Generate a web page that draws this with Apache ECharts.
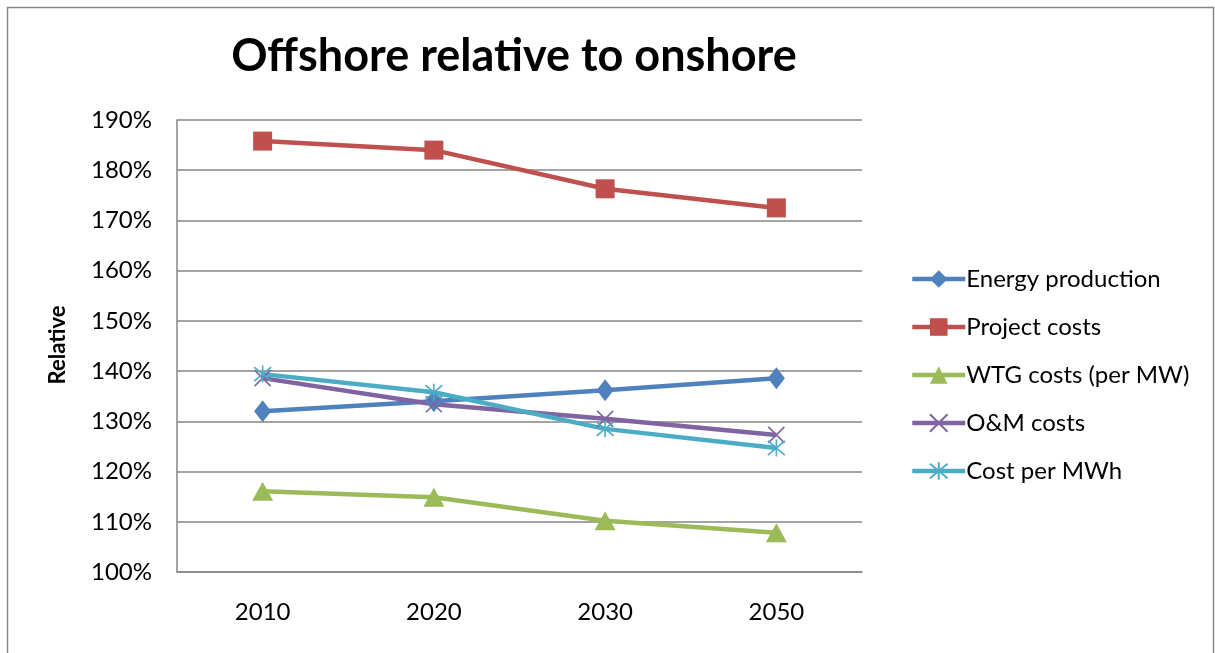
<!DOCTYPE html>
<html>
<head>
<meta charset="utf-8">
<script src="https://cdn.jsdelivr.net/npm/echarts@6/dist/echarts.min.js"></script>
<style>
html,body{margin:0;padding:0;background:#fff;}
#chart{width:1215px;height:653px;}
</style>
</head>
<body>
<div id="chart"></div>
<script>
const categories = ['2010', '2020', '2030', '2050'];
const energyProduction = [132.0, 134.0, 136.2, 138.6];
const projectCosts = [185.8, 184.0, 176.3, 172.5];
const wtgCosts = [116.1, 114.9, 110.2, 107.8];
const omCosts = [138.6, 133.4, 130.5, 127.3];
const costPerMWh = [139.4, 135.8, 128.5, 124.7];
const seriesNames = ['Energy production', 'Project costs', 'WTG costs (per MW)', 'O&M costs', 'Cost per MWh'];
const yMin = 100, yMax = 190, yStep = 10;

const FONT = 'Lato, "Open Sans", sans-serif';
const colors = ['#4F81BD', '#C0504D', '#9BBB59', '#8064A2', '#4BACC6'];
const xPath = 'path://M0,0L10,10M10,0L0,10';
const starPath = 'path://M0,0L10,10M10,0L0,10M5,-1L5,11';

function mk(name, data, color, symbol, size, stroke) {
  return {
    name: name, type: 'line', data: data,
    symbol: symbol, symbolSize: size,
    lineStyle: {color: color, width: 4.5},
    itemStyle: stroke ? {color: color, borderColor: color, borderWidth: 1.6} : {color: color},
    emphasis: {disabled: true},
    animation: false
  };
}

const chart = echarts.init(document.getElementById('chart'), null, {renderer: 'canvas'});
chart.setOption({
  backgroundColor: '#fff',
  color: colors,
  animation: false,
  graphic: [
    {type: 'rect', shape: {x: 7.5, y: 7.5, width: 1206, height: 660}, style: {fill: null, stroke: '#868686', lineWidth: 1.5}, silent: true},
    {type: 'text', x: 514, y: 56, style: {text: 'Offshore relative to onshore', font: 'bold 45px ' + FONT, fill: '#000', align: 'center', verticalAlign: 'middle'}},
    {type: 'text', x: 58, y: 345, rotation: Math.PI / 2, style: {text: 'Relative', font: 'bold 22px ' + FONT, fill: '#000', align: 'center', verticalAlign: 'middle'}}
  ],
  grid: {left: 177, top: 120, right: 353, bottom: 81, containLabel: false},
  xAxis: {
    type: 'category', data: categories, boundaryGap: true,
    axisLine: {lineStyle: {color: '#868686', width: 1.5}},
    axisTick: {show: false},
    axisLabel: {color: '#000', fontSize: 24, fontFamily: FONT, margin: 28}
  },
  yAxis: {
    type: 'value', min: yMin, max: yMax, interval: yStep,
    axisLine: {show: true, lineStyle: {color: '#868686', width: 1.5}},
    axisTick: {show: false},
    splitLine: {lineStyle: {color: '#868686', width: 1.5}},
    axisLabel: {color: '#000', fontSize: 24, fontFamily: FONT, margin: 25, formatter: v => v + '%'}
  },
  legend: {
    orient: 'vertical', left: 905, top: 262,
    itemWidth: 53, itemHeight: 22, itemGap: 24,
    lineStyle: {width: 4.5},
    textStyle: {color: '#000', fontSize: 24, fontFamily: FONT, lineHeight: 24, padding: [0, 0, 0, -4]},
    data: seriesNames
  },
  series: [
    mk(seriesNames[0], energyProduction, colors[0], 'diamond', [17, 22], false),
    mk(seriesNames[1], projectCosts, colors[1], 'rect', 19, false),
    mk(seriesNames[2], wtgCosts, colors[2], 'triangle', [21, 19], false),
    mk(seriesNames[3], omCosts, colors[3], xPath, 16, true),
    mk(seriesNames[4], costPerMWh, colors[4], starPath, 17, true)
  ]
});
</script>
</body>
</html>
